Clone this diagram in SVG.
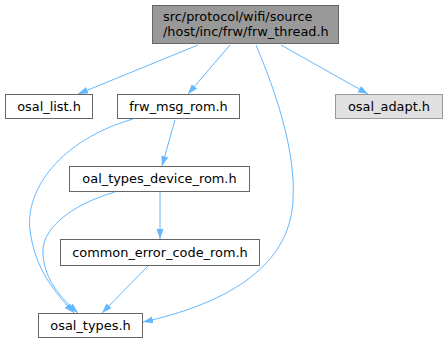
<svg xmlns="http://www.w3.org/2000/svg" width="446" height="344" viewBox="0 0 446 344">
<style>
.n rect{fill:#ffffff;stroke:#666666;stroke-width:1}
.n text{font-family:"DejaVu Sans",sans-serif;font-size:12.9px;fill:#000000;text-anchor:middle}
#e path{fill:none;stroke:#63b8ff;stroke-width:1}
</style>
<defs>
<marker id="a" markerUnits="userSpaceOnUse" markerWidth="11" markerHeight="8" refX="10" refY="3.5" orient="auto">
<path d="M0,0 L10,3.5 L0,7 z" fill="#63b8ff"/>
</marker>
</defs>
<rect width="446" height="344" fill="#ffffff"/>
<g id="e">
<path d="M198,45 L78,94" marker-end="url(#a)"/>
<path d="M230,45 L188,94" marker-end="url(#a)"/>
<path d="M281,45 L368,94" marker-end="url(#a)"/>
<path d="M256,45 C275,90 296,150 293,200 C290,270 220,305 143,322" marker-end="url(#a)"/>
<path d="M133,119 C60,140 25,190 30,230 C35,270 55,292 74,313" marker-end="url(#a)"/>
<path d="M115,192 C70,205 40,230 43,255 C45,280 60,297 78,313" marker-end="url(#a)"/>
<path d="M175,120 L162,166" marker-end="url(#a)"/>
<path d="M160,192 L160,239" marker-end="url(#a)"/>
<path d="M148,266 L102,313" marker-end="url(#a)"/>
</g>
<g id="n_top" class="n">
<rect x="152.5" y="5.5" width="186" height="38" style="fill:#999999;stroke:#666666"/>
<text x="163" y="21" style="text-anchor:start">src/protocol/wifi/source</text>
<text x="163" y="35.5" style="text-anchor:start">/host/inc/frw/frw_thread.h</text>
</g>
<g id="n_osal_list" class="n">
<rect x="5.5" y="94.5" width="87" height="24"/>
<text x="49" y="111">osal_list.h</text>
</g>
<g id="n_frw_msg" class="n">
<rect x="117.5" y="94.5" width="122" height="24"/>
<text x="178.5" y="111">frw_msg_rom.h</text>
</g>
<g id="n_osal_adapt" class="n">
<rect x="335.5" y="94.5" width="107" height="24" style="fill:#e0e0e0;stroke:#999999"/>
<text x="389" y="111">osal_adapt.h</text>
</g>
<g id="n_oal" class="n">
<rect x="69.5" y="166.5" width="180" height="25"/>
<text x="159.5" y="183">oal_types_device_rom.h</text>
</g>
<g id="n_common" class="n">
<rect x="60.5" y="239.5" width="199" height="26"/>
<text x="160" y="256.5">common_error_code_rom.h</text>
</g>
<g id="n_osal_types" class="n">
<rect x="38.5" y="313.5" width="104" height="24"/>
<text x="90.5" y="330">osal_types.h</text>
</g>
</svg>
